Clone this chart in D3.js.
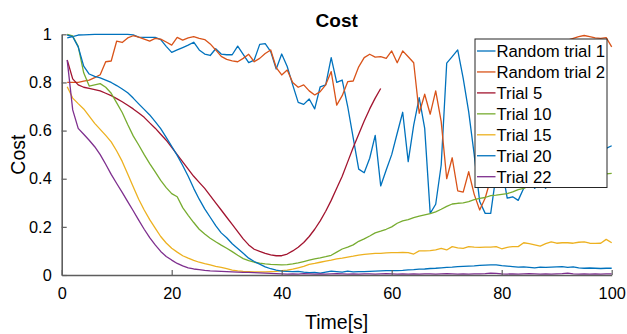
<!DOCTYPE html>
<html>
<head>
  <title>Cost</title>
  <script src="https://d3js.org/d3.v7.min.js"></script>
  <style>
    body { margin: 0; background: #fff; }
    text { font-family: "Liberation Sans", Arial, sans-serif; fill: #000; }
  </style>
</head>
<body>
  <svg id="chart"></svg>
  <script>
    // Time axis, one sample per second
    const time = d3.range(1, 101);
    const time5 = d3.range(1, 59); // trial 5 stops at 58 s

    const randomTrial1 = [
      .985, .99, .997, .998, .999, 1, 1, 1, 1, 1,
      1, 1, .998, .988, .987, .987, .987, .978, .95, .925,
      .935, .945, .955, .967, .935, .918, .912, .94, .918, .915,
      .915, .951, .917, .882, .893, .958, .961, .928, .856, .918,
      .866, .79, .717, .709, .731, .69, .782, .79, .903, .80,
      .81, .70, .57, .44, .425, .485, .58, .37, .436, .50,
      .589, .676, .471, .623, .737, .609, .256, .294, .457, .88,
      .907, .935, .817, .678, .50, .305, .256, .256, .42, .45,
      .319, .325, .31, .36, .40, .36, .38, .36, .41, .44,
      .42, .46, .44, .48, .47, .50, .49, .51, .526, .537
    ];
    const randomTrial2 = [
      .80, .80, .80, .805, .81, .82, .832, .886, .889, .972,
      .966, .985, .994, .988, .98, .972, .983, .98, .968, .955,
      .987, .976, .985, .99, .983, .978, .96, .935, .908, .896,
      .89, .886, .9, .917, .886, .9, .92, .935, .862, .831,
      .852, .80, .78, .79, .765, .748, .762, .79, .845, .706,
      .745, .803, .806, .865, .903, .917, .905, .907, .90, .931,
      .882, .931, .907, .882, .672, .751, .668, .765, .637, .40,
      .487, .35, .344, .429, .335, .27, .32, .40, .50, .58,
      .55, .65, .72, .70, .78, .83, .86, .90, .92, .95,
      .96, .976, .983, .99, .995, .99, .985, .983, .986, .948
    ];
    const trial5 = [
      .893, .815, .79, .78, .775, .77, .765, .755, .745, .733,
      .72, .705, .69, .673, .655, .632, .61, .585, .56, .53,
      .50, .47, .44, .41, .385, .36, .33, .30, .27, .24,
      .21, .18, .15, .125, .107, .098, .09, .084, .08, .08,
      .087, .10, .115, .135, .16, .19, .225, .265, .31, .36,
      .41, .47, .53, .585, .64, .69, .735, .775
    ];
    const trial10 = [
      1, .993, .95, .84, .785, .79, .795, .78, .755, .715,
      .675, .625, .578, .54, .50, .463, .428, .393, .363, .338,
      .325, .28, .248, .218, .19, .17, .153, .138, .124, .111,
      .097, .082, .068, .06, .053, .049, .046, .044, .043, .042,
      .043, .046, .05, .056, .062, .067, .071, .076, .082, .095,
      .108, .116, .125, .14, .15, .162, .175, .182, .19, .20,
      .215, .225, .23, .238, .245, .25, .255, .262, .273, .285,
      .295, .298, .30, .305, .313, .318, .322, .33, .332, .335,
      .338, .345, .355, .36, .37, .38, .385, .388, .392, .395,
      .397, .40, .402, .405, .408, .41, .413, .416, .42, .422
    ];
    const trial15 = [
      .782, .735, .712, .69, .66, .63, .605, .58, .553, .515,
      .472, .42, .367, .315, .27, .23, .195, .16, .133, .111,
      .095, .08, .07, .061, .053, .047, .042, .036, .032, .026,
      .02, .017, .015, .014, .013, .013, .013, .014, .015, .018,
      .02, .024, .03, .036, .044, .048, .053, .058, .062, .067,
      .07, .074, .078, .083, .086, .088, .09, .09, .092, .093,
      .093, .094, .093, .087, .10, .10, .101, .104, .111, .104,
      .118, .113, .111, .118, .116, .115, .116, .116, .118, .109,
      .115, .118, .118, .134, .13, .125, .12, .13, .138, .132,
      .134, .134, .132, .136, .138, .132, .131, .132, .148, .134
    ];
    const trial20 = [
      .997, .99, .948, .868, .835, .825, .819, .81, .80, .787,
      .773, .757, .735, .711, .688, .665, .637, .608, .572, .535,
      .497, .455, .41, .36, .315, .275, .24, .205, .175, .155,
      .13, .11, .09, .07, .056, .045, .034, .026, .02, .016,
      .015, .014, .015, .012, .01, .011, .008, .012, .016, .014,
      .012, .016, .013, .014, .014, .015, .016, .017, .018, .018,
      .018, .019, .021, .022, .024, .025, .027, .028, .03, .032,
      .033, .035, .036, .037, .038, .04, .041, .042, .042, .039,
      .037, .035, .033, .034, .032, .03, .033, .032, .033, .034,
      .035, .032, .034, .03, .028, .029, .028, .027, .028, .028
    ];
    const trial22 = [
      .893, .686, .609, .585, .56, .533, .50, .46, .418, .38,
      .343, .305, .267, .228, .19, .155, .125, .098, .077, .062,
      .048, .038, .03, .025, .022, .019, .017, .016, .015, .014,
      .013, .012, .011, .011, .01, .009, .008, .007, .006, .005,
      .004, .005, .004, .006, .005, .004, .005, .004, .005, .006,
      .005, .004, .005, .004, .005, .005, .004, .005, .006, .005,
      .004, .005, .004, .005, .004, .005, .005, .004, .005, .006,
      .005, .004, .005, .004, .005, .005, .006, .008, .007, .005,
      .004, .005, .004, .005, .006, .005, .004, .005, .004, .005,
      .006, .008, .005, .004, .005, .004, .005, .004, .005, .005
    ];

    const seriesNames = ["Random trial 1", "Random trial 2", "Trial 5", "Trial 10", "Trial 15", "Trial 20", "Trial 22"];
    const seriesColors = ["#0072BD", "#D95319", "#A2142F", "#77AC30", "#EDB120", "#0072BD", "#7E2F8E"];
    const xTicks = [0, 20, 40, 60, 80, 100];
    const yTicks = [0, 0.2, 0.4, 0.6, 0.8, 1];

    // Build one table of series from the arrays above
    const series = [
      { name: seriesNames[0], t: time, v: randomTrial1 },
      { name: seriesNames[1], t: time, v: randomTrial2 },
      { name: seriesNames[2], t: time5, v: trial5 },
      { name: seriesNames[3], t: time, v: trial10 },
      { name: seriesNames[4], t: time, v: trial15 },
      { name: seriesNames[5], t: time, v: trial20 },
      { name: seriesNames[6], t: time, v: trial22 }
    ].map((s, i) => ({ name: s.name, color: seriesColors[i], points: s.t.map((t, j) => [t, s.v[j]]) }));

    // Dimensions
    const W = 627, H = 334;
    const margin = { top: 34.3, right: 15.3, bottom: 59, left: 61.7 },
          width = W - margin.left - margin.right,
          height = H - margin.top - margin.bottom;

    const svg = d3.select("#chart")
      .attr("width", W)
      .attr("height", H);

    const g = svg.append("g")
      .attr("transform", `translate(${margin.left},${margin.top})`);

    // Scales
    const xScale = d3.scaleLinear().domain([0, 100]).range([0, width]);
    const yScale = d3.scaleLinear().domain([0, 1]).range([height, 0]);

    // Lines
    const line = d3.line()
      .x(d => xScale(d[0]))
      .y(d => yScale(d[1]));

    g.selectAll(".series")
      .data(series)
      .enter().append("path")
      .attr("class", "series")
      .attr("d", d => line(d.points))
      .attr("fill", "none")
      .attr("stroke", d => d.color)
      .attr("stroke-width", 1.3)
      .attr("stroke-linejoin", "round");

    // Axes (MATLAB style: ticks pointing in, no box)
    const axisColor = "#5e5e5e";
    const xAxis = d3.axisBottom(xScale)
      .tickValues(xTicks)
      .tickFormat(d3.format("d"))
      .tickSizeInner(-5)
      .tickSizeOuter(0)
      .tickPadding(12);

    const yAxis = d3.axisLeft(yScale)
      .tickValues(yTicks)
      .tickFormat(d => d === 0 || d === 1 ? String(d) : d3.format(".1f")(d))
      .tickSizeInner(-5)
      .tickSizeOuter(0)
      .tickPadding(10);

    const gx = g.append("g")
      .attr("transform", `translate(0,${height})`)
      .call(xAxis);
    const gy = g.append("g").call(yAxis);

    [gx, gy].forEach(a => {
      a.select(".domain").attr("stroke", axisColor).attr("stroke-width", 1.6);
      a.selectAll(".tick line").attr("stroke", axisColor).attr("stroke-width", 1.2);
      a.selectAll("text")
        .style("font-family", "Liberation Sans, Arial, sans-serif")
        .style("font-size", "16.3px")
        .attr("fill", "#1a1a1a");
    });

    // Title and axis labels
    svg.append("text")
      .attr("x", margin.left + width / 2)
      .attr("y", 26.5)
      .attr("text-anchor", "middle")
      .style("font-size", "19px")
      .style("font-weight", "bold")
      .text("Cost");

    svg.append("text")
      .attr("x", margin.left + width / 2)
      .attr("y", 329)
      .attr("text-anchor", "middle")
      .style("font-size", "19.5px")
      .text("Time[s]");

    svg.append("text")
      .attr("transform", `translate(25,${margin.top + height / 2}) rotate(-90)`)
      .attr("text-anchor", "middle")
      .style("font-size", "19.5px")
      .text("Cost");

    // Legend
    const legendBox = { x: 475, y: 39, w: 132, h: 148.5 };
    const legend = svg.append("g");
    legend.append("rect")
      .attr("x", legendBox.x)
      .attr("y", legendBox.y)
      .attr("width", legendBox.w)
      .attr("height", legendBox.h)
      .attr("fill", "#fff")
      .attr("stroke", "#262626")
      .attr("stroke-width", 1);

    const items = legend.selectAll(".legend-item")
      .data(series)
      .enter().append("g")
      .attr("class", "legend-item")
      .attr("transform", (d, i) => `translate(${legendBox.x},${51 + i * 20.95})`);

    items.append("line")
      .attr("x1", 2).attr("x2", 20.5)
      .attr("y1", 0).attr("y2", 0)
      .attr("stroke", d => d.color)
      .attr("stroke-width", 1.3);

    items.append("text")
      .attr("x", 21.5)
      .attr("dy", "0.35em")
      .style("font-size", "16.7px")
      .text(d => d.name);
  </script>
</body>
</html>
